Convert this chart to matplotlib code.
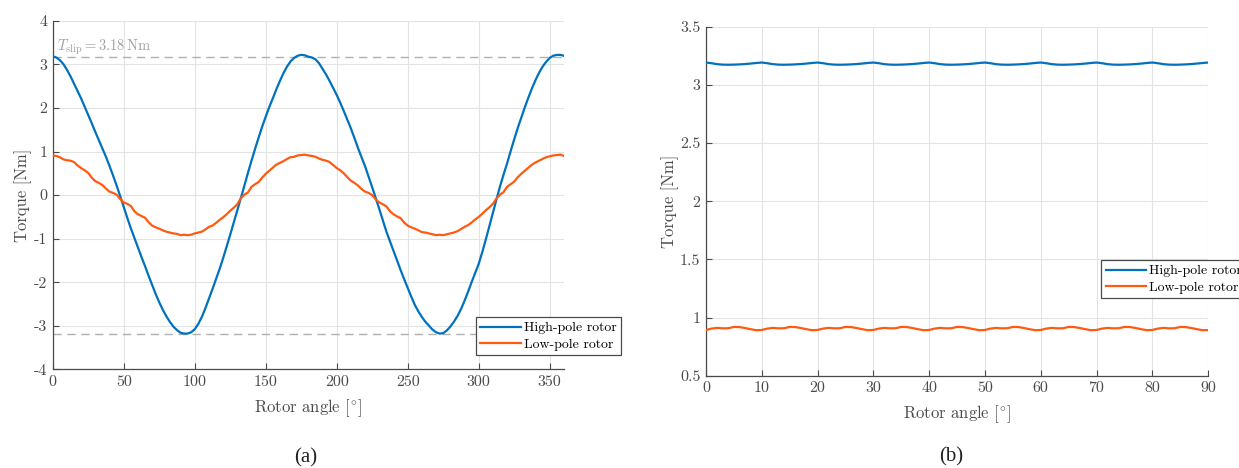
import numpy as np
import matplotlib
matplotlib.use("Agg")
import matplotlib.pyplot as plt

plt.rcParams['font.family'] = ['cmr10', 'DejaVu Serif']
plt.rcParams['mathtext.fontset'] = 'cm'
plt.rcParams['axes.unicode_minus'] = False
plt.rcParams['axes.formatter.use_mathtext'] = True

# ---------------- data: panel (a) ----------------
angle_a = np.arange(0, 360.1, 2.5)
torque_a_high = [
    3.19, 3.16, 3.10, 3.01, 2.88, 2.73, 2.56, 2.39, 2.22, 2.03,
    1.84, 1.65, 1.45, 1.26, 1.07, 0.88, 0.67, 0.45, 0.22, -0.02,
    -0.27, -0.52, -0.76, -0.98, -1.20, -1.42, -1.63, -1.85, -2.06, -2.27,
    -2.46, -2.63, -2.78, -2.91, -3.02, -3.10, -3.16, -3.18, -3.18, -3.15,
    -3.08, -2.96, -2.80, -2.60, -2.38, -2.16, -1.93, -1.70, -1.45, -1.18,
    -0.91, -0.63, -0.35, -0.07, 0.22, 0.51, 0.79, 1.06, 1.32, 1.57,
    1.80, 2.02, 2.22, 2.43, 2.62, 2.80, 2.95, 3.07, 3.15, 3.20,
    3.22, 3.21, 3.18, 3.16, 3.12, 3.03, 2.90, 2.77, 2.62, 2.46,
    2.30, 2.12, 1.93, 1.73, 1.53, 1.31, 1.08, 0.87, 0.66, 0.42,
    0.18, -0.07, -0.32, -0.58, -0.84, -1.06, -1.28, -1.50, -1.72, -1.93,
    -2.13, -2.33, -2.52, -2.67, -2.80, -2.91, -3.00, -3.09, -3.15, -3.18,
    -3.17, -3.11, -3.02, -2.91, -2.78, -2.62, -2.43, -2.22, -2.00, -1.79,
    -1.58, -1.31, -1.02, -0.71, -0.40, -0.10, 0.20, 0.47, 0.73, 1.01,
    1.28, 1.54, 1.78, 2.02, 2.24, 2.45, 2.64, 2.81, 2.95, 3.06,
    3.15, 3.20, 3.22, 3.22, 3.20,
]
torque_a_low = [
    0.91, 0.90, 0.87, 0.82, 0.80, 0.79, 0.76, 0.68, 0.62, 0.57,
    0.51, 0.40, 0.32, 0.28, 0.23, 0.15, 0.08, 0.05, 0.01, -0.09,
    -0.17, -0.20, -0.25, -0.37, -0.44, -0.48, -0.52, -0.62, -0.70, -0.74,
    -0.77, -0.81, -0.84, -0.86, -0.88, -0.89, -0.92, -0.91, -0.92, -0.91,
    -0.88, -0.86, -0.84, -0.79, -0.73, -0.70, -0.64, -0.57, -0.51, -0.44,
    -0.36, -0.29, -0.21, -0.07, 0.01, 0.06, 0.19, 0.25, 0.30, 0.40,
    0.49, 0.56, 0.63, 0.70, 0.74, 0.78, 0.83, 0.87, 0.88, 0.91,
    0.92, 0.93, 0.91, 0.90, 0.88, 0.84, 0.81, 0.79, 0.76, 0.69,
    0.62, 0.57, 0.50, 0.41, 0.33, 0.28, 0.22, 0.14, 0.08, 0.05,
    0.00, -0.10, -0.17, -0.21, -0.26, -0.37, -0.44, -0.49, -0.53, -0.63,
    -0.70, -0.74, -0.77, -0.81, -0.85, -0.86, -0.88, -0.90, -0.92, -0.91,
    -0.92, -0.90, -0.88, -0.86, -0.83, -0.78, -0.73, -0.69, -0.63, -0.56,
    -0.50, -0.43, -0.35, -0.28, -0.20, -0.08, 0.01, 0.07, 0.19, 0.25,
    0.31, 0.41, 0.49, 0.56, 0.63, 0.70, 0.75, 0.79, 0.83, 0.87,
    0.89, 0.91, 0.92, 0.93, 0.90,
]

t_slip = 3.18

# ---------------- data: panel (b) ----------------
angle_b = np.arange(0, 91, 1)
torque_b_high = [
    3.192, 3.186, 3.178, 3.174, 3.173, 3.174, 3.176, 3.179, 3.183, 3.188,
    3.192, 3.186, 3.178, 3.174, 3.173, 3.174, 3.176, 3.179, 3.183, 3.188,
    3.192, 3.186, 3.178, 3.174, 3.173, 3.174, 3.176, 3.179, 3.183, 3.188,
    3.192, 3.186, 3.178, 3.174, 3.173, 3.174, 3.176, 3.179, 3.183, 3.188,
    3.192, 3.186, 3.178, 3.174, 3.173, 3.174, 3.176, 3.179, 3.183, 3.188,
    3.192, 3.186, 3.178, 3.174, 3.173, 3.174, 3.176, 3.179, 3.183, 3.188,
    3.192, 3.186, 3.178, 3.174, 3.173, 3.174, 3.176, 3.179, 3.183, 3.188,
    3.192, 3.186, 3.178, 3.174, 3.173, 3.174, 3.176, 3.179, 3.183, 3.188,
    3.192, 3.186, 3.178, 3.174, 3.173, 3.174, 3.176, 3.179, 3.183, 3.188,
    3.192,
]
torque_b_low = [
    0.893, 0.905, 0.911, 0.907, 0.908, 0.919, 0.918, 0.910, 0.900, 0.891,
    0.893, 0.905, 0.911, 0.907, 0.908, 0.919, 0.918, 0.910, 0.900, 0.891,
    0.893, 0.905, 0.911, 0.907, 0.908, 0.919, 0.918, 0.910, 0.900, 0.891,
    0.893, 0.905, 0.911, 0.907, 0.908, 0.919, 0.918, 0.910, 0.900, 0.891,
    0.893, 0.905, 0.911, 0.907, 0.908, 0.919, 0.918, 0.910, 0.900, 0.891,
    0.893, 0.905, 0.911, 0.907, 0.908, 0.919, 0.918, 0.910, 0.900, 0.891,
    0.893, 0.905, 0.911, 0.907, 0.908, 0.919, 0.918, 0.910, 0.900, 0.891,
    0.893, 0.905, 0.911, 0.907, 0.908, 0.919, 0.918, 0.910, 0.900, 0.891,
    0.893, 0.905, 0.911, 0.907, 0.908, 0.919, 0.918, 0.910, 0.900, 0.891,
    0.892,
]

xticks_a = [0, 50, 100, 150, 200, 250, 300, 350]
xtick_labels_a = ['0', '50', '100', '150', '200', '250', '300', '350']
yticks_a = [-4, -3, -2, -1, 0, 1, 2, 3, 4]
ytick_labels_a = ['-4', '-3', '-2', '-1', '0', '1', '2', '3', '4']
xticks_b = [0, 10, 20, 30, 40, 50, 60, 70, 80, 90]
xtick_labels_b = ['0', '10', '20', '30', '40', '50', '60', '70', '80', '90']
yticks_b = [0.5, 1, 1.5, 2, 2.5, 3, 3.5]
ytick_labels_b = ['0.5', '1', '1.5', '2', '2.5', '3', '3.5']
series_labels = ['High-pole rotor', 'Low-pole rotor']

# ---------------- styling ----------------
BLUE = '#0072BD'
ORANGE = '#FF5A0F'
AX_COL = '#4a4a4a'
GRID_COL = '#e3e3e3'
LW = 1.6

fig = plt.figure(figsize=(12.39, 4.68), dpi=100)
ax1 = fig.add_axes([52.7 / 1239, 1 - 369.3 / 468, 511.2 / 1239, 348.4 / 468])
ax2 = fig.add_axes([705.9 / 1239, 1 - 375.7 / 468, 502.2 / 1239, 349.0 / 468])


def style(ax):
    for s in ['top', 'right']:
        ax.spines[s].set_visible(False)
    for s in ['left', 'bottom']:
        ax.spines[s].set_color(AX_COL)
        ax.spines[s].set_linewidth(0.9)
    ax.tick_params(direction='in', length=4, width=0.8, colors=AX_COL,
                   labelsize=11.5, labelcolor=AX_COL, pad=4)
    ax.grid(True, color=GRID_COL, linewidth=0.8)
    ax.set_axisbelow(True)


def make_legend(ax, handles, anchor):
    leg = ax.legend(handles, series_labels, loc='lower left',
                    bbox_to_anchor=anchor, borderaxespad=0,
                    fontsize=10, handlelength=2.9, handletextpad=0.25,
                    borderpad=0.32, labelspacing=0.25, fancybox=False,
                    framealpha=1, edgecolor=AX_COL)
    leg.get_frame().set_linewidth(0.9)
    leg.set_zorder(5)
    return leg


# panel (a)
style(ax1)
ax1.axhline(t_slip, color='#b0b0b0', lw=1.0, ls=(0, (6, 4)), zorder=1)
ax1.axhline(-t_slip, color='#b0b0b0', lw=1.0, ls=(0, (6, 4)), zorder=1)
l1, = ax1.plot(angle_a, torque_a_high, color=BLUE, lw=LW, zorder=3)
l2, = ax1.plot(angle_a, torque_a_low, color=ORANGE, lw=LW, zorder=3)
ax1.set_xlim(0, 360)
ax1.set_ylim(-4, 4)
ax1.set_xticks(xticks_a)
ax1.set_xticklabels(xtick_labels_a)
ax1.set_yticks(yticks_a)
ax1.set_yticklabels(ytick_labels_a)
ax1.set_xlabel(r'Rotor angle [$^{\circ}$]', fontsize=12, color=AX_COL, labelpad=6)
ax1.set_ylabel('Torque [Nm]', fontsize=12, color=AX_COL, labelpad=1)
ax1.text(2.8, 3.33, r'$T_{\mathrm{slip}} = 3.18\,\mathrm{Nm}$', color='#a0a0a0',
         fontsize=10.5, ha='left', va='baseline')
make_legend(ax1, [l1, l2], (0.828, 0.041))

# panel (b)
style(ax2)
m1, = ax2.plot(angle_b, torque_b_high, color=BLUE, lw=LW, zorder=3)
m2, = ax2.plot(angle_b, torque_b_low, color=ORANGE, lw=LW, zorder=3)
ax2.set_xlim(0, 90)
ax2.set_ylim(0.5, 3.5)
ax2.set_xticks(xticks_b)
ax2.set_xticklabels(xtick_labels_b)
ax2.set_yticks(yticks_b)
ax2.set_yticklabels(ytick_labels_b)
ax2.set_xlabel(r'Rotor angle [$^{\circ}$]', fontsize=12, color=AX_COL, labelpad=6)
ax2.set_ylabel('Torque [Nm]', fontsize=12, color=AX_COL, labelpad=1)
make_legend(ax2, [m1, m2], (0.787, 0.2226))

fig.text(306 / 1239, 1 - 458 / 468, '(a)', family='Liberation Serif',
         fontsize=15, ha='center', va='center', color='#222222')
fig.text(951 / 1239, 1 - 457 / 468, '(b)', family='Liberation Serif',
         fontsize=15, ha='center', va='center', color='#222222')

fig.savefig('out.png', dpi=100)
